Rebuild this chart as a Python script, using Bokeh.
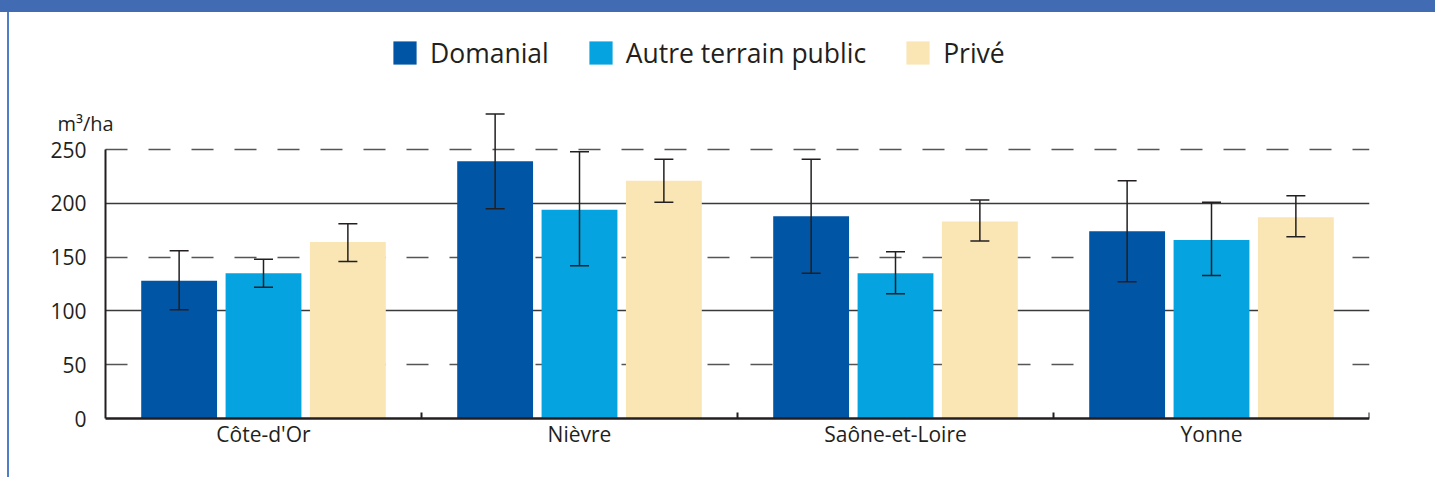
import numpy as np
from bokeh.plotting import figure
from bokeh.models import (ColumnDataSource, Range1d, FixedTicker, Grid, Whisker, TeeHead,
                          Legend, LegendItem, Label, Div)
from bokeh.layouts import column, row
from bokeh.embed import file_html
from bokeh.resources import INLINE

# ---------------- data ----------------
categories = ["Côte-d'Or", "Nièvre", "Saône-et-Loire", "Yonne"]
series = ["Domanial", "Autre terrain public", "Privé"]

domanial = [128, 239, 188, 174]
domanial_lo = [101, 195, 135, 127]
domanial_hi = [156, 283, 241, 221]

autre = [135, 194, 135, 166]
autre_lo = [122, 142, 116, 133]
autre_hi = [148, 248, 155, 201]

prive = [164, 221, 183, 187]
prive_lo = [146, 201, 165, 169]
prive_hi = [181, 241, 203, 207]

y_ticks = [0, 50, 100, 150, 200, 250]
y_unit = "m³/ha"

# ---------------- style ----------------
colors = ["#0055a4", "#05a3df", "#f9e6b4"]
FONT = "Open Sans"
TXT = "#231f20"

n = len(categories)
centers = np.arange(n) + 0.5
offsets = [-0.267, 0.0, 0.267]
bar_w = 0.24

p = figure(width=1424, height=465,
           x_range=Range1d(-0.269, n), y_range=Range1d(-39.0, 369.9),
           output_backend="svg", toolbar_location=None,
           min_border_left=11, min_border_right=64,
           min_border_top=8, min_border_bottom=17)
p.outline_line_color = None
p.background_fill_color = "white"
p.border_fill_color = "white"

# x axis (placed at y = 0 inside the frame)
xa = p.xaxis[0]
xa.ticker = FixedTicker(ticks=list(centers), minor_ticks=list(range(1, n + 1)))
xa.major_label_overrides = {float(c): lab for c, lab in zip(centers, categories)}
xa.bounds = (0, n)
xa.fixed_location = 0
xa.major_tick_line_color = None
xa.major_tick_in = 0
xa.major_tick_out = 0
xa.minor_tick_in = 6
xa.minor_tick_out = 0
xa.minor_tick_line_width = 2
xa.minor_tick_line_color = TXT
xa.axis_line_width = 2.5
xa.axis_line_color = TXT
xa.major_label_text_font = FONT
xa.major_label_text_font_size = "21px"
xa.major_label_text_color = TXT
xa.major_label_standoff = 1

# y axis (placed at x = 0 inside the frame)
ya = p.yaxis[0]
ya.ticker = FixedTicker(ticks=y_ticks)
ya.bounds = (y_ticks[0], y_ticks[-1])
ya.fixed_location = 0
ya.major_tick_line_color = None
ya.major_tick_in = 0
ya.major_tick_out = 0
ya.minor_tick_line_color = None
ya.axis_line_width = 2
ya.axis_line_color = TXT
ya.major_label_text_font = FONT
ya.major_label_text_font_size = "21px"
ya.major_label_text_color = TXT
ya.major_label_standoff = 19

# grids
p.xgrid.visible = False
solid = [t for t in y_ticks if t > 0 and t % 100 == 0]
dashed = [t for t in y_ticks if t % 100 == 50]
p.ygrid.ticker = FixedTicker(ticks=solid)
p.ygrid.grid_line_color = "#3a3a3a"
p.ygrid.grid_line_width = 1.5
p.ygrid.cross_bounds = (0, n)
dgrid = Grid(dimension=1, ticker=FixedTicker(ticks=dashed), cross_bounds=(0, n),
             grid_line_color="#555555", grid_line_width=1.5, grid_line_dash="22 21")
p.add_layout(dgrid)

# bars + error bars
values = [domanial, autre, prive]
lows = [domanial_lo, autre_lo, prive_lo]
highs = [domanial_hi, autre_hi, prive_hi]
items = []
for name, vals, lo, hi, off, col in zip(series, values, lows, highs, offsets, colors):
    src = ColumnDataSource(dict(x=centers + off, top=vals, lo=lo, hi=hi))
    r = p.vbar(x="x", top="top", width=bar_w, source=src,
               fill_color=col, line_color=None)
    w = Whisker(base="x", lower="lo", upper="hi", source=src,
                line_color=TXT, line_width=1.5, level="annotation",
                upper_head=TeeHead(size=19, line_color=TXT, line_width=1.5),
                lower_head=TeeHead(size=19, line_color=TXT, line_width=1.5))
    p.add_layout(w)
    items.append(LegendItem(label=name, renderers=[r]))

# frame is now 440 px tall; legend bottom 51 px below frame top
legend = Legend(items=items, orientation="horizontal", location=(370, 389.5),
                glyph_width=29, glyph_height=29, label_standoff=11, spacing=37,
                padding=0, margin=0, border_line_color=None,
                background_fill_alpha=0,
                label_text_font=FONT, label_text_font_size="26.5px",
                label_text_color=TXT)
p.add_layout(legend)

p.add_layout(Label(x=-0.152, y=274.4, text=y_unit, text_font=FONT,
                   text_font_size="20px", text_color=TXT,
                   text_baseline="alphabetic", text_align="left"))

header = Div(text="", width=1435, height=12, margin=(0, 0, 0, 0),
             styles={"background-color": "#416bb3"})
gap = Div(text="", width=7, height=465, margin=(0, 0, 0, 0),
          styles={"background-color": "white"})
border = Div(text="", width=2, height=465, margin=(0, 0, 0, 0),
             styles={"background-color": "#4f7dc6"})
layout = column(header, row(gap, border, p, spacing=0), spacing=0)

open("out.html", "w").write(file_html(layout, INLINE))
